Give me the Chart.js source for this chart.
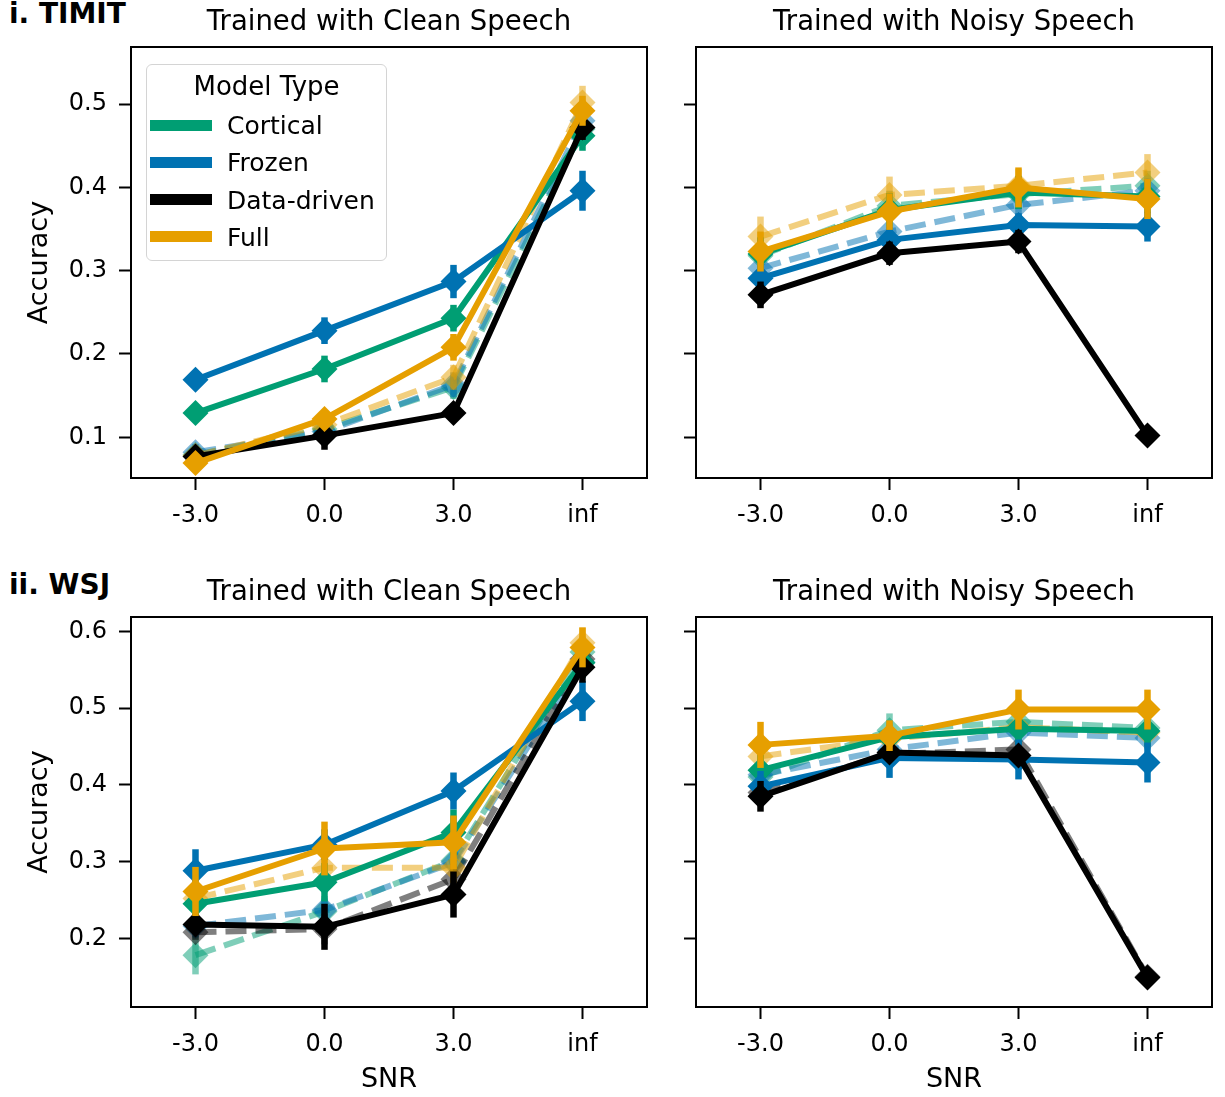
<!DOCTYPE html>
<html>
<head>
<meta charset="utf-8">
<script src="https://cdn.jsdelivr.net/npm/chart.js@4.4.0/dist/chart.umd.min.js"></script>
<style>
  body { margin: 0; background: #fff; width: 1225px; height: 1097px; position: relative; overflow: hidden; font-family: 'DejaVu Sans', sans-serif; }
  canvas { position: absolute; }
  .tag { position: absolute; font-weight: bold; font-size: 28px; line-height: 28px; color: #000; white-space: nowrap; }
  .legend { position: absolute; left: 146px; top: 64px; width: 241px; height: 197px; box-sizing: border-box;
            border: 1.5px solid #d4d4d4; border-radius: 6px; background: rgba(255,255,255,0.8); z-index: 2; }
  .legend div { position: absolute; white-space: nowrap; color: #000; }
  .legend .ttl { left: 0; width: 100%; text-align: center; font-size: 26px; line-height: 26px; top: 8px; }
  .legend .lbl { left: 80px; font-size: 25px; line-height: 25px; }
  .legend .sw { left: 3px; width: 62px; height: 11px; }
</style>
</head>
<body>
<div class="tag" style="left:9px;top:0px">i. TIMIT</div>
<div class="tag" style="left:9px;top:571px">ii. WSJ</div>

<canvas id="timitClean" width="660" height="540" style="left:0;top:0"></canvas>
<canvas id="timitNoisy" width="565" height="540" style="left:660px;top:0"></canvas>
<canvas id="wsjClean" width="660" height="537" style="left:0;top:560px"></canvas>
<canvas id="wsjNoisy" width="565" height="537" style="left:660px;top:560px"></canvas>

<div class="legend" id="legend"></div>

<script>
const snrLabels = ['-3.0', '0.0', '3.0', 'inf'];
const modelTypes = ['Cortical', 'Frozen', 'Data-driven', 'Full'];
const modelColors = ['0,158,115', '0,114,178', '0,0,0', '230,159,0'];

// rows: Cortical, Frozen, Data-driven, Full
const timitCleanSolid = [
  [0.129, 0.182, 0.243, 0.462],
  [0.169, 0.228, 0.287, 0.396],
  [0.077, 0.102, 0.129, 0.472],
  [0.069, 0.122, 0.208, 0.492]
];
const timitCleanSolidErr = [
  [0.008, 0.016, 0.016, 0.018],
  [0.008, 0.016, 0.020, 0.024],
  [0.006, 0.017, 0.006, 0.015],
  [0.006, 0.010, 0.016, 0.018]
];
const timitCleanDashed = [
  [0.079, 0.110, 0.160, 0.470],
  [0.082, 0.107, 0.163, 0.480],
  null,
  [0.078, 0.115, 0.172, 0.502]
];
const timitCleanDashedErr = [
  [0.008, 0.010, 0.014, 0.020],
  [0.010, 0.010, 0.015, 0.020],
  null,
  [0.008, 0.010, 0.015, 0.020]
];

const timitNoisySolid = [
  [0.320, 0.373, 0.394, 0.389],
  [0.291, 0.337, 0.355, 0.353],
  [0.271, 0.321, 0.335, 0.102],
  [0.323, 0.371, 0.400, 0.386]
];
const timitNoisySolidErr = [
  [0.020, 0.020, 0.020, 0.020],
  [0.016, 0.016, 0.014, 0.018],
  [0.016, 0.014, 0.014, 0.004],
  [0.024, 0.022, 0.024, 0.024]
];
const timitNoisyDashed = [
  [0.318, 0.378, 0.392, 0.402],
  [0.303, 0.347, 0.379, 0.396],
  null,
  [0.341, 0.391, 0.402, 0.418]
];
const timitNoisyDashedErr = [
  [0.018, 0.018, 0.018, 0.018],
  [0.015, 0.015, 0.015, 0.015],
  null,
  [0.024, 0.022, 0.020, 0.022]
];

const wsjCleanSolid = [
  [0.245, 0.273, 0.338, 0.559],
  [0.288, 0.322, 0.392, 0.509],
  [0.218, 0.215, 0.257, 0.553],
  [0.261, 0.317, 0.325, 0.579]
];
const wsjCleanSolidErr = [
  [0.020, 0.025, 0.030, 0.020],
  [0.028, 0.020, 0.024, 0.026],
  [0.010, 0.030, 0.030, 0.020],
  [0.032, 0.035, 0.035, 0.026]
];
const wsjCleanDashed = [
  [0.178, 0.235, 0.301, 0.573],
  [0.216, 0.237, 0.299, 0.560],
  [0.208, 0.212, 0.277, 0.564],
  [0.252, 0.292, 0.292, 0.585]
];
const wsjCleanDashedErr = [
  [0.025, 0.020, 0.020, 0.020],
  [0.015, 0.015, 0.015, 0.020],
  [0.010, 0.020, 0.020, 0.020],
  [0.020, 0.020, 0.020, 0.020]
];

const wsjNoisySolid = [
  [0.419, 0.462, 0.473, 0.470],
  [0.398, 0.435, 0.433, 0.429],
  [0.385, 0.442, 0.438, 0.149],
  [0.452, 0.464, 0.498, 0.498]
];
const wsjNoisySolidErr = [
  [0.020, 0.015, 0.020, 0.020],
  [0.020, 0.026, 0.026, 0.026],
  [0.020, 0.010, 0.010, 0.004],
  [0.030, 0.020, 0.026, 0.026]
];
const wsjNoisyDashed = [
  [0.410, 0.471, 0.482, 0.474],
  [0.413, 0.446, 0.468, 0.461],
  [0.390, 0.440, 0.446, 0.150],
  [0.437, 0.460, 0.475, 0.468]
];
const wsjNoisyDashedErr = [
  [0.020, 0.022, 0.020, 0.020],
  [0.015, 0.015, 0.015, 0.015],
  [0.010, 0.010, 0.010, 0.004],
  [0.020, 0.020, 0.020, 0.020]
];

const timitTicks = [0.1, 0.2, 0.3, 0.4, 0.5];
const wsjTicks = [0.2, 0.3, 0.4, 0.5, 0.6];

const FONT = 'DejaVu Sans';

// vertical error bars under each dataset
const errorBars = {
  id: 'errorBars',
  beforeDatasetDraw(chart, args) {
    const ds = chart.data.datasets[args.index];
    if (!ds.errors) return;
    const ctx = chart.ctx, y = chart.scales.y;
    ctx.save();
    ctx.strokeStyle = ds.borderColor;
    ctx.lineWidth = 6.5;
    ctx.setLineDash([]);
    args.meta.data.forEach((pt, i) => {
      const v = ds.data[i];
      if (v == null) return;
      ctx.beginPath();
      ctx.moveTo(pt.x, y.getPixelForValue(v - ds.errors[i]));
      ctx.lineTo(pt.x, y.getPixelForValue(v + ds.errors[i]));
      ctx.stroke();
    });
    ctx.restore();
  }
};

const frame = {
  id: 'frame',
  afterDraw(chart) {
    const { ctx, chartArea: a } = chart;
    ctx.save();
    ctx.strokeStyle = '#000';
    ctx.lineWidth = 2;
    ctx.strokeRect(a.left, a.top, a.right - a.left, a.bottom - a.top);
    ctx.restore();
  }
};

function makeSet(i, values, errs, dashed) {
  const col = dashed ? `rgba(${modelColors[i]},0.5)` : `rgb(${modelColors[i]})`;
  return {
    label: modelTypes[i],
    data: values,
    errors: errs,
    borderColor: col,
    backgroundColor: col,
    pointBackgroundColor: col,
    borderWidth: 6,
    borderDash: dashed ? [21, 9] : [],
    borderJoinStyle: 'round',
    pointStyle: 'rectRot',
    pointRadius: 13,
    pointBorderWidth: 0,
    tension: 0
  };
}

function makePanel(id, title, solid, solidErr, dashed, dashedErr, yRange, yTicks, cfg) {
  const datasets = [];
  for (let i = modelTypes.length - 1; i >= 0; i--) datasets.push(makeSet(i, solid[i], solidErr[i], false));
  for (let i = modelTypes.length - 1; i >= 0; i--) {
    if (dashed[i]) datasets.push(makeSet(i, dashed[i], dashedErr[i], true));
  }
  const grid = { drawOnChartArea: false, drawTicks: true, tickLength: 12, tickWidth: 2, color: '#000' };
  new Chart(document.getElementById(id), {
    type: 'line',
    data: { labels: snrLabels, datasets: datasets },
    plugins: [errorBars, frame],
    options: {
      responsive: false,
      animation: false,
      events: [],
      layout: { padding: { left: 0, right: 10, top: 0, bottom: 0 } },
      plugins: {
        legend: { display: false },
        tooltip: { enabled: false },
        title: {
          display: true, text: title, color: '#000', fullSize: false,
          font: { family: FONT, size: 27.5, weight: 'normal' },
          padding: { top: cfg.titleTop, bottom: cfg.titleBottom }
        }
      },
      scales: {
        x: {
          type: 'category',
          offset: true,
          grid: grid,
          border: { display: false },
          ticks: { color: '#000', font: { family: FONT, size: 24 }, padding: 11, maxRotation: 0, autoSkip: false },
          title: { display: cfg.xTitle, text: 'SNR', color: '#000', font: { family: FONT, size: 27 }, padding: { top: 0, bottom: 1 } },
          afterFit(s) { s.height = cfg.xHeight; }
        },
        y: {
          min: yRange[0],
          max: yRange[1],
          afterBuildTicks(s) { s.ticks = yTicks.map(v => ({ value: v })); },
          grid: grid,
          border: { display: false },
          ticks: { display: cfg.yLabels, color: '#000', font: { family: FONT, size: 24 }, padding: 12,
                   callback: v => v.toFixed(1) },
          title: { display: cfg.yLabels, text: 'Accuracy', color: '#000', font: { family: FONT, size: 27 }, padding: { top: 24, bottom: 0 } },
          afterFit(s) { s.width = cfg.yWidth; }
        }
      }
    }
  });
}

const topLeft = { titleTop: 6.5, titleBottom: 7.5, xHeight: 62, yWidth: 131, xTitle: false, yLabels: true };
const topRight = Object.assign({}, topLeft, { yWidth: 36, yLabels: false });
const botLeft = { titleTop: 16.5, titleBottom: 7.5, xHeight: 90, yWidth: 131, xTitle: true, yLabels: true };
const botRight = Object.assign({}, botLeft, { yWidth: 36, yLabels: false });

makePanel('timitClean', 'Trained with Clean Speech', timitCleanSolid, timitCleanSolidErr, timitCleanDashed, timitCleanDashedErr, [0.0511, 0.5686], timitTicks, topLeft);
makePanel('timitNoisy', 'Trained with Noisy Speech', timitNoisySolid, timitNoisySolidErr, timitNoisyDashed, timitNoisyDashedErr, [0.0511, 0.5686], timitTicks, topRight);
makePanel('wsjClean', 'Trained with Clean Speech', wsjCleanSolid, wsjCleanSolidErr, wsjCleanDashed, wsjCleanDashedErr, [0.1105, 0.6186], wsjTicks, botLeft);
makePanel('wsjNoisy', 'Trained with Noisy Speech', wsjNoisySolid, wsjNoisySolidErr, wsjNoisyDashed, wsjNoisyDashedErr, [0.1105, 0.6186], wsjTicks, botRight);

// legend inside the first panel
const legend = document.getElementById('legend');
let html = '<div class="ttl">Model Type</div>';
modelTypes.forEach((name, i) => {
  const top = 48 + i * 37.3;
  html += `<div class="sw" style="top:${top + 6.5}px;background:rgb(${modelColors[i]})"></div>`;
  html += `<div class="lbl" style="top:${top}px">${name}</div>`;
});
legend.innerHTML = html;
</script>
</body>
</html>
